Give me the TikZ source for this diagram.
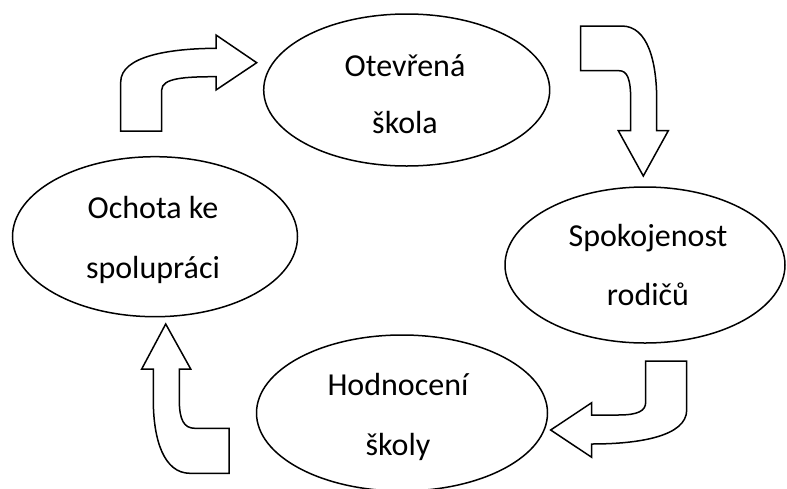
\documentclass[tikz,border=0pt]{standalone}
\usepackage{fontspec}
\setmainfont{Carlito}
\usetikzlibrary{shapes.geometric}
\begin{document}
\begin{tikzpicture}[x=1pt,y=-1pt,
  oval/.style={draw=black, line width=1.5pt, ellipse, inner sep=0pt},
  lbl/.style={font=\fontsize{32}{38}\selectfont, anchor=base, inner sep=0pt},
  blockarrow/.style={draw=black, fill=white, line width=1.5pt, line join=miter}]
\useasboundingbox (0,0) rectangle (787,488);
% ellipses
\node[oval, minimum width=286pt, minimum height=152pt] (e1) at (406.7,90) {};
\node[oval, minimum width=280pt, minimum height=156pt] (e2) at (645,265) {};
\node[oval, minimum width=285pt, minimum height=160pt] (e3) at (155,236.7) {};
\node[oval, minimum width=291pt, minimum height=156pt] (e4) at (402,413) {};
% texts
\node[lbl] (t1a) at (405,76) {Otevřená};
\node[lbl] (t1b) at (405,133) {škola};
\node[lbl] (t2a) at (648,246.7) {Spokojenost};
\node[lbl] (t2b) at (648,305) {rodičů};
\node[lbl] (t3a) at (153,218) {Ochota ke};
\node[lbl] (t3b) at (153,278) {spolupráci};
\node[lbl] (t4a) at (398,395) {Hodnocení};
\node[lbl] (t4b) at (398,455) {školy};
% block arrow: top-left, pointing right
\draw[blockarrow] (120.7,131) -- (161.7,131) -- (161.7,90)
  .. controls (161.7,78) and (185,76.7) .. (216,76.7)
  -- (216,90) -- (256.7,62.7) -- (216,35) -- (216,48.3)
  .. controls (170,48.5) and (120.7,56) .. (120.7,82) -- cycle;
% block arrow: top-right, pointing down
\draw[blockarrow] (580.7,26) -- (621.7,26)
  .. controls (648,26) and (656.7,62) .. (656.7,100)
  -- (656.7,130.7) -- (668.3,130.7) -- (643.3,176) -- (618.3,130.7)
  -- (630.7,130.7) -- (630.7,100)
  .. controls (630.7,78) and (627,70.7) .. (619,70.7)
  -- (580.7,70.7) -- cycle;
% block arrow: bottom-right, pointing left
\draw[blockarrow] (645.7,361) -- (686.7,361) -- (686.7,410)
  .. controls (686.7,436) and (640,444) .. (591.7,444)
  -- (591.7,457.3) -- (550.7,430) -- (591.7,402.7) -- (591.7,415)
  -- (618,415) .. controls (638,415) and (645.7,411) .. (645.7,402)
  -- cycle;
% block arrow: bottom-left, pointing up
\draw[blockarrow] (229,428.3) -- (229,473.3) -- (190,473.3)
  .. controls (164,473.3) and (153.3,440) .. (153.3,400)
  -- (153.3,369) -- (141.7,369) -- (165.7,324) -- (190.7,369)
  -- (179.3,369) -- (179.3,400)
  .. controls (179.3,420) and (184,428.3) .. (195,428.3) -- cycle;
\end{tikzpicture}
\end{document}
